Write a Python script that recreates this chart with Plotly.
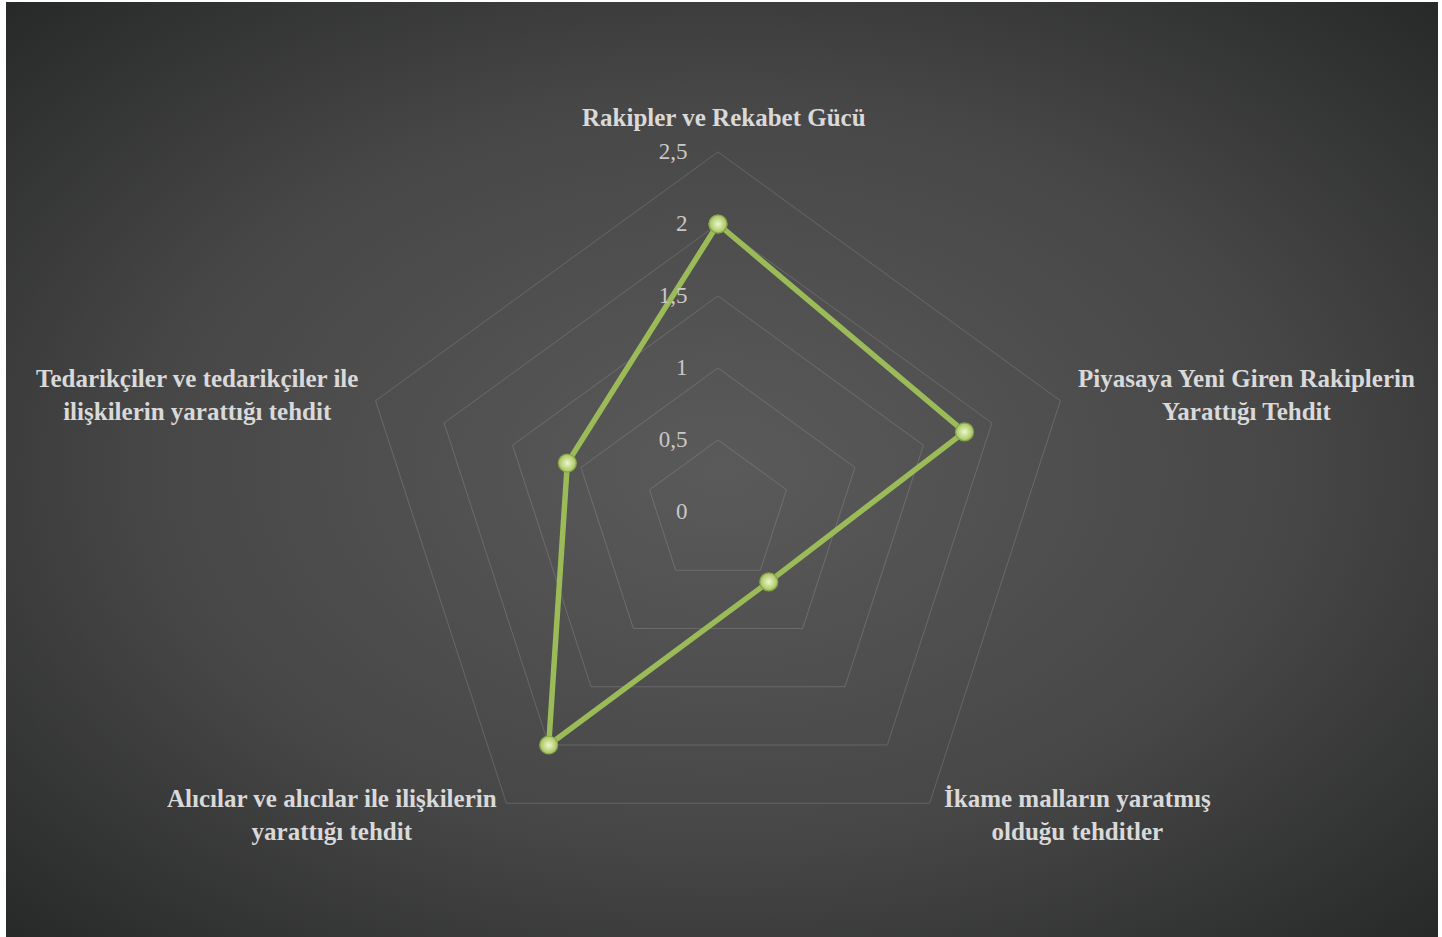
import base64
import plotly.graph_objects as go

categories = [
    "Rakipler ve Rekabet Gücü",
    "Piyasaya Yeni Giren Rakiplerin<br>Yarattığı Tehdit",
    "İkame malların yaratmış<br>olduğu tehditler",
    "Alıcılar ve alıcılar ile ilişkilerin<br>yarattığı tehdit",
    "Tedarikçiler ve tedarikçiler ile<br>ilişkilerin yarattığı tehdit",
]
values = [2.0, 1.8, 0.6, 2.0, 1.1]
tick_vals = [0, 0.5, 1, 1.5, 2, 2.5]
tick_text = ["0", "0,5", "1", "1,5", "2", "2,5"]

# label anchor positions (paper fractions)
label_pos = [
    (0.5014, 0.8765),
    (0.8666, 0.5797),
    (0.7480, 0.1306),
    (0.2277, 0.1306),
    (0.1334, 0.5797),
]

svg = (
    '<svg xmlns="http://www.w3.org/2000/svg" width="1432" height="935" preserveAspectRatio="none">'
    '<defs><radialGradient id="g" cx="50%" cy="50%" r="72%">'
    '<stop offset="0" stop-color="#5a5a5a"/><stop offset="0.55" stop-color="#474747"/>'
    '<stop offset="1" stop-color="#262727"/></radialGradient></defs>'
    '<rect width="1432" height="935" fill="url(#g)"/></svg>'
)
src = "data:image/svg+xml;base64," + base64.b64encode(svg.encode()).decode()

fig = go.Figure()
r_closed = values + values[:1]
theta_closed = [c for c in categories] + categories[:1]
fig.add_trace(go.Scatterpolar(
    r=r_closed, theta=theta_closed, mode="lines+markers",
    line=dict(color="#9BBB59", width=5.5),
    marker=dict(size=18, color="#A3C35C",
                gradient=dict(type="radial", color="#EEF7CC"),
                line=dict(color="#86A446", width=1.2)),
    hoverinfo="skip", showlegend=False,
))

fig.update_layout(
    width=1442, height=937,
    margin=dict(l=6, r=4, t=2, b=0),
    paper_bgcolor="white",
    separators=",.",
    images=[dict(source=src, xref="paper", yref="paper", x=0, y=1, sizex=1, sizey=1,
                 xanchor="left", yanchor="top", sizing="stretch", layer="below")],
    polar=dict(
        domain=dict(x=[0.2458, 0.7486], y=[0.0695, 0.8396]),
        bgcolor="rgba(0,0,0,0)",
        gridshape="linear",
        angularaxis=dict(
            rotation=90, direction="clockwise",
            showticklabels=False, ticks="",
            showgrid=False, showline=True,
            linecolor="rgba(255,255,255,0.15)", linewidth=1,
        ),
        radialaxis=dict(
            angle=90,
            range=[0, 2.5], tickvals=tick_vals, ticktext=tick_text,
            showline=False, showgrid=True,
            gridcolor="rgba(255,255,255,0.15)", gridwidth=1,
            side="counterclockwise", ticks="outside", ticklen=22,
            tickcolor="rgba(0,0,0,0)", tickangle=90,
            tickfont=dict(family="Liberation Serif", size=23, color="#C8C8C8"),
        ),
    ),
)

for cat, (x, y) in zip(categories, label_pos):
    fig.add_annotation(
        text=cat, x=x, y=y, xref="paper", yref="paper",
        showarrow=False, xanchor="center", yanchor="middle", align="center",
        font=dict(family="Liberation Serif", size=25, color="#D9D9D9", weight="bold"),
    )

fig.write_html("out.html", config={"displayModeBar": False},
               post_script="document.body.style.margin='0';")
